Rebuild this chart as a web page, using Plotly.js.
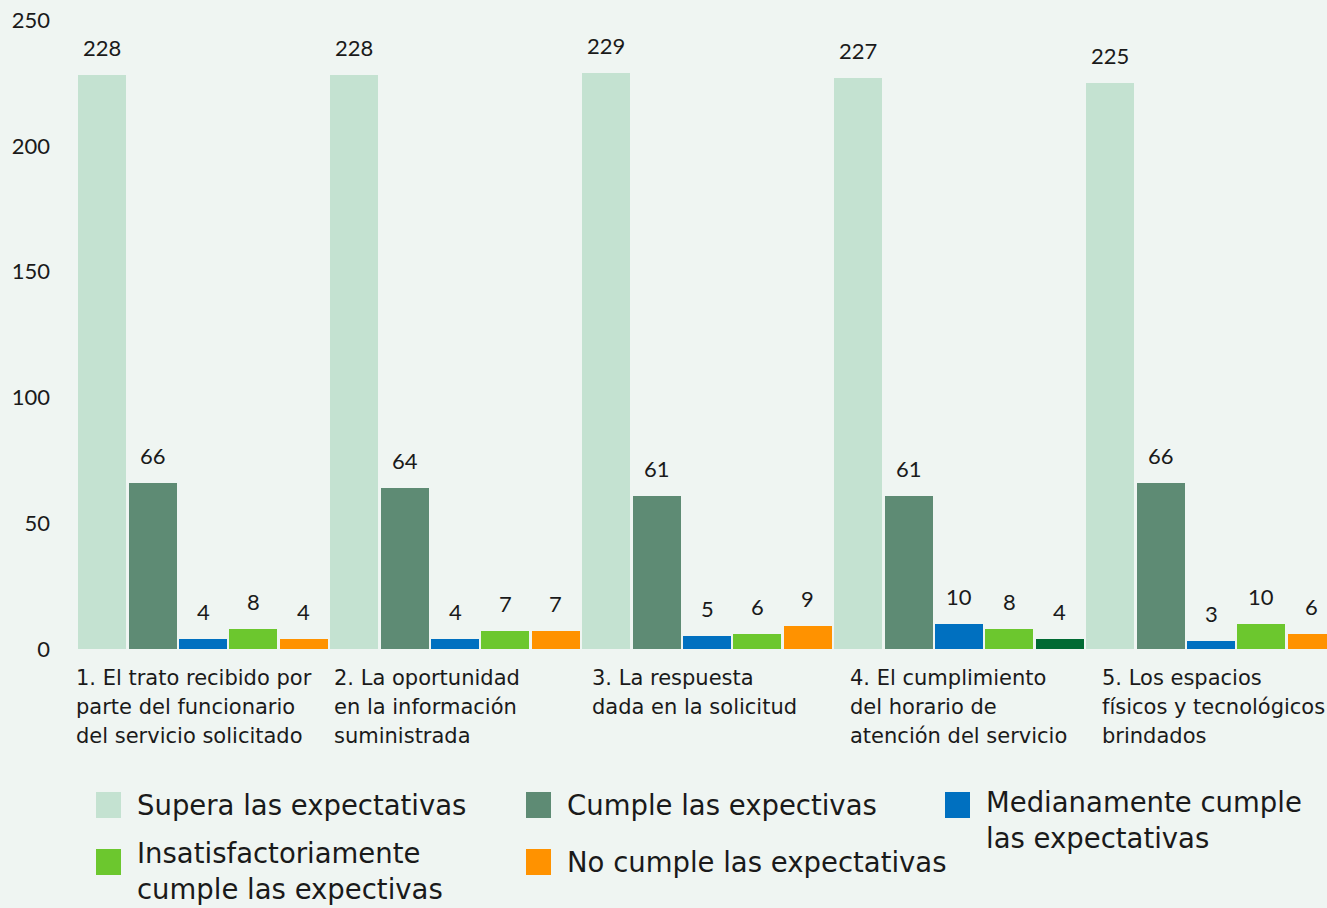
<!DOCTYPE html>
<html><head><meta charset="utf-8">
<script src="https://cdn.plot.ly/plotly-3.0.1.min.js"></script>
<style>html,body{margin:0;padding:0;background:#eff5f2}</style>
</head><body><div id="chart" style="width:1327px;height:908px"></div>
<script>
const categories = [
  "1. El trato recibido por<br>parte del funcionario<br>del servicio solicitado",
  "2. La oportunidad<br>en la información<br>suministrada",
  "3. La respuesta<br>dada en la solicitud",
  "4. El cumplimiento<br>del horario de<br>atención del servicio",
  "5. Los espacios<br>físicos y tecnológicos<br>brindados"
];
const seriesNames = [
  "Supera las expectativas",
  "Cumple las expectivas",
  "Medianamente cumple<br>las expectativas",
  "Insatisfactoriamente<br>cumple las expectivas",
  "No cumple las expectativas"
];
const supera = [228, 228, 229, 227, 225];
const cumple = [66, 64, 61, 61, 66];
const medianamente = [4, 4, 5, 10, 3];
const insatisfactoriamente = [8, 7, 6, 8, 10];
const noCumple = [4, 7, 9, 4, 6];
const yTicks = [0, 50, 100, 150, 200, 250];

const series = [supera, cumple, medianamente, insatisfactoriamente, noCumple];
const colors = ["#c4e2d1", "#5e8b74", "#0070c0", "#6cc72e", "#ff9200"];
const NUMFONT = "Lato, 'Open Sans', sans-serif";
const LBLFONT = "'DejaVu Sans', 'Open Sans', sans-serif";
const TXT = "#1a1a1a";

const L = 77, R = 0, T = 20, B = 259, W = 1327, H = 908;
const plotW = W - L - R, plotH = H - T - B;
const px2x = p => (p - L) / plotW;
const py2y = p => (H - B - p) / plotH;

const xIdx = categories.map((c, i) => i);
const slot = 0.2, barW = 0.19;

const traces = series.map((vals, k) => {
  let col = colors[k];
  if (k === 4) col = vals.map((v, i) => i === 3 ? "#006a33" : colors[4]);
  return {
    type: "bar", x: xIdx, y: vals, name: seriesNames[k],
    width: barW, offset: -0.5 + k * slot + (slot - barW) / 2,
    marker: {color: col}, showlegend: false, hoverinfo: "y"
  };
});

const annotations = [];
// value labels
series.forEach((vals, k) => {
  vals.forEach((v, i) => {
    annotations.push({
      x: i - 0.5 + k * slot + slot / 2, y: v, xref: "x", yref: "y",
      text: String(v), showarrow: false, yanchor: "bottom", yshift: 12,
      font: {family: NUMFONT, size: 22, color: TXT}
    });
  });
});
// category labels (one annotation per line)
categories.forEach((c, i) => {
  c.split("<br>").forEach((line, j) => {
    annotations.push({
      x: px2x(Math.min(L - 3 + i * 258, 1100)), y: py2y(678 + j * 29), xref: "paper", yref: "paper",
      text: line, showarrow: false, xanchor: "left", yanchor: "middle",
      font: {family: LBLFONT, size: 21, color: TXT}
    });
  });
});
// custom legend
const legPos = [[96, 792], [526, 792], [945, 792], [96, 849], [526, 849]];
const legTextY = [805, 805, 820, 871, 862];
const shapes = [];
seriesNames.forEach((name, k) => {
  const [sx, sy] = legPos[k];
  shapes.push({
    type: "rect", xref: "paper", yref: "paper",
    x0: px2x(sx), x1: px2x(sx + 25), y0: py2y(sy), y1: py2y(sy + 26),
    fillcolor: colors[k], line: {width: 0}
  });
  annotations.push({
    x: px2x(sx + 40), y: py2y(legTextY[k]), xref: "paper", yref: "paper",
    text: name, showarrow: false, xanchor: "left", yanchor: "middle", align: "left",
    borderpad: 0,
    font: {family: LBLFONT, size: 27.5, color: TXT}
  });
});

const layout = {
  width: W, height: H,
  margin: {l: L, r: R, t: T, b: B},
  paper_bgcolor: "#eff5f2", plot_bgcolor: "#eff5f2",
  barmode: "group", bargap: 0, bargroupgap: 0,
  xaxis: {range: [-0.5, -0.5 + plotW / 252], showticklabels: false, showgrid: false, zeroline: false, showline: false, ticks: ""},
  yaxis: {range: [0, 250], tickvals: yTicks, showgrid: false, zeroline: false, showline: false, ticks: "",
          ticklabelstandoff: 26, tickfont: {family: NUMFONT, size: 22, color: TXT}},
  showlegend: false,
  annotations: annotations, shapes: shapes
};
Plotly.newPlot("chart", traces, layout, {displayModeBar: false, staticPlot: true});
</script></body></html>
